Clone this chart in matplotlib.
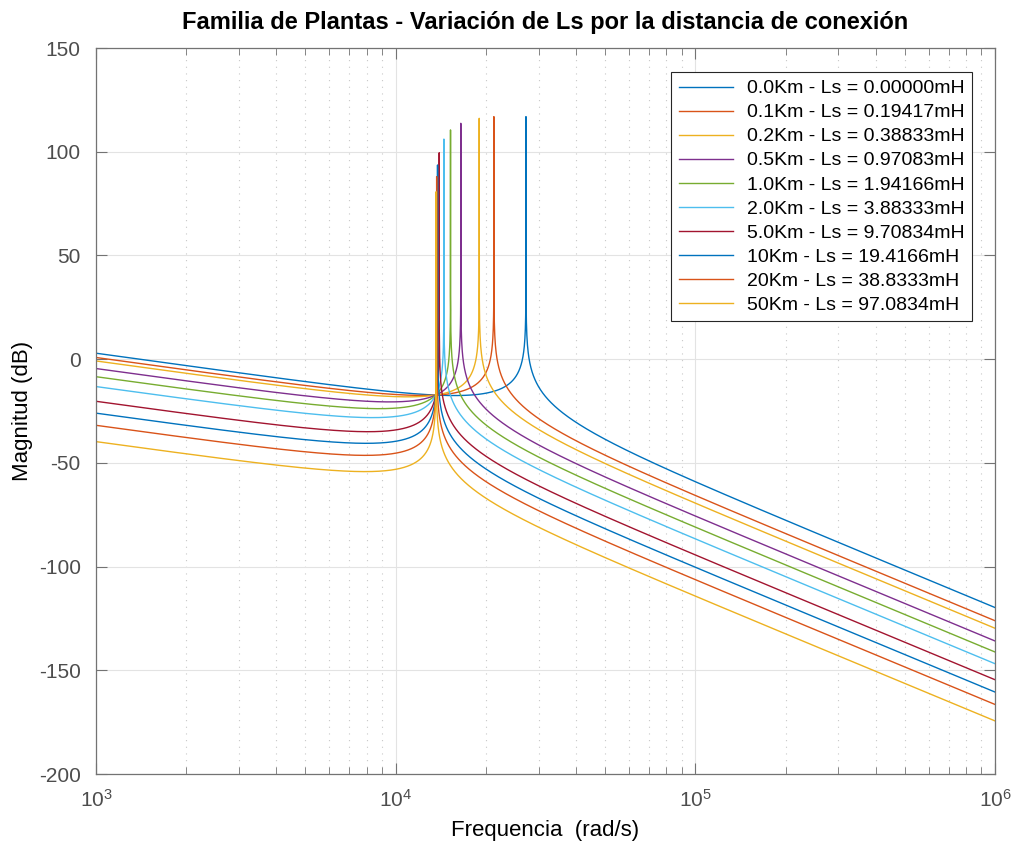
import numpy as np
import matplotlib.pyplot as plt
from matplotlib.ticker import LogLocator, NullFormatter

plt.rcParams['font.family'] = ['Liberation Sans', 'DejaVu Sans']
plt.rcParams['mathtext.default'] = 'regular'
plt.rcParams['axes.unicode_minus'] = False

# DATA
labels = ['0.0Km - Ls = 0.00000mH', '0.1Km - Ls = 0.19417mH', '0.2Km - Ls = 0.38833mH',
          '0.5Km - Ls = 0.97083mH', '1.0Km - Ls = 1.94166mH', '2.0Km - Ls = 3.88333mH',
          '5.0Km - Ls = 9.70834mH', '10Km - Ls = 19.4166mH', '20Km - Ls = 38.8333mH',
          '50Km - Ls = 97.0834mH']
ls_mH = [0.0, 0.19417, 0.38833, 0.97083, 1.94166, 3.88333, 9.70834, 19.4166, 38.8333, 97.0834]
peak_db = [116.9, 116.9, 116.1, 113.7, 110.5, 106.1, 99.5, 93.6, 88.0, 80.7]

# plant parameters (LCL filter)
L1 = 0.54e-3
Lg = 0.18e-3
C = 10e-6

colors = ['#0072BD', '#D95319', '#EDB120', '#7E2F8E', '#77AC30', '#4DBEEE', '#A2142F',
          '#0072BD', '#D95319', '#EDB120']

fig = plt.figure(figsize=(10.14, 8.43), dpi=100)
ax = fig.add_axes([96/1014, 1-774/843, (995-96)/1014, (774-48)/843])

w_base = np.logspace(3, 6, 6000)
for ls, pk, col, lab in zip(ls_mH, peak_db, colors, labels):
    L2 = Lg + ls*1e-3
    wr = np.sqrt((L1 + L2)/(L1*L2*C))
    w = np.sort(np.append(w_base, wr))
    r = 10**(-pk/20)
    G = 1/(r + 1j*w*(L1 + L2 - w**2*L1*L2*C))
    ax.semilogx(w, 20*np.log10(np.abs(G)), color=col, lw=1.0, label=lab)

ax.set_xlim(1e3, 1e6)
ax.set_ylim(-200, 150)
ax.set_yticks(np.arange(-200, 151, 50))
ax.xaxis.set_minor_locator(LogLocator(base=10, subs=np.arange(2, 10), numticks=20))
ax.xaxis.set_minor_formatter(NullFormatter())

ax.grid(True, which='major', color='#e3e3e3', lw=0.8, ls='-')
ax.grid(True, which='minor', axis='x', color='#c8c8c8', lw=0.8, ls=(0, (1, 5)))
ax.set_axisbelow(True)

for s in ax.spines.values():
    s.set_color('#737373')
    s.set_linewidth(0.9)
ax.tick_params(which='both', direction='in', top=True, right=True, colors='#737373',
               labelcolor='#4d4d4d', labelsize=15)
ax.tick_params(which='major', length=8)
ax.tick_params(which='minor', length=5)
ax.tick_params(axis='x', pad=11)
ax.tick_params(axis='y', pad=11)

ax.set_title('Familia de Plantas - Variación de Ls por la distancia de conexión',
             fontsize=17, fontweight='bold', pad=14)
ax.set_xlabel('Frequencia  (rad/s)', fontsize=16, labelpad=6)
ax.set_ylabel('Magnitud (dB)', fontsize=16, labelpad=4)

leg = ax.legend(loc='upper right', bbox_to_anchor=(972/1014, 1-72/843),
                bbox_transform=fig.transFigure, borderaxespad=0, fontsize=14,
                fancybox=False, framealpha=1, edgecolor='#262626',
                handlelength=2.8, handletextpad=0.7, labelspacing=0.33, borderpad=0.4)
leg.get_frame().set_linewidth(0.8)

plt.savefig('out.png', dpi=100)
